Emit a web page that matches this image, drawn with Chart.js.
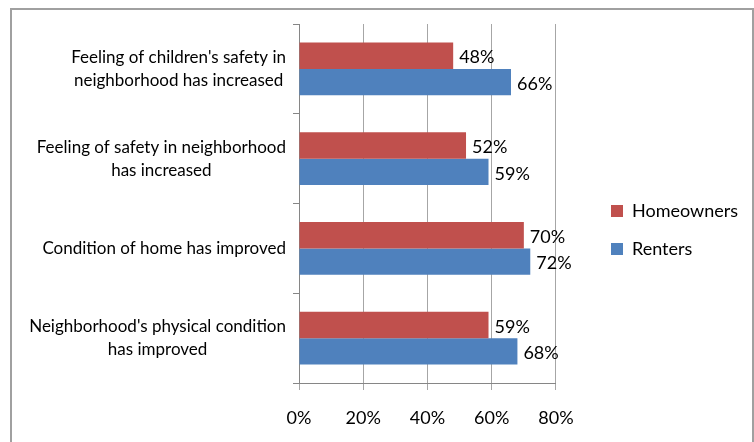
<!DOCTYPE html>
<html>
<head>
<meta charset="utf-8">
<script src="https://cdn.jsdelivr.net/npm/chart.js@4/dist/chart.umd.min.js"></script>
<style>
  html, body { margin: 0; padding: 0; background: #fff; }
  #wrap { width: 754px; height: 442px; position: relative; }
</style>
</head>
<body>
<div id="wrap"><canvas id="c" width="754" height="442"></canvas></div>
<script>
const categories = [
  ["Feeling of children's safety in", "neighborhood has increased"],
  ["Feeling of safety in neighborhood", "has increased"],
  ["Condition of home has improved"],
  ["Neighborhood's physical condition", "has improved"]
];
const seriesNames = ["Homeowners", "Renters"];
const homeowners = [48, 52, 70, 59];
const renters = [66, 59, 72, 68];
const xTicks = [0, 20, 40, 60, 80];

const FONT = "Lato, 'Open Sans', sans-serif";
const RED = '#C0504D';
const BLUE = '#4F81BD';

const borderPlugin = {
  id: 'outerBorder',
  beforeDraw(chart) {
    const ctx = chart.ctx;
    ctx.save();
    ctx.fillStyle = '#fff';
    ctx.fillRect(0, 0, chart.width, chart.height);
    ctx.strokeStyle = '#a0a0a0';
    ctx.lineWidth = 2;
    ctx.strokeRect(11, 9, 742, 460);
    ctx.restore();
  }
};

const catLabelPlugin = {
  id: 'catLabels',
  afterDraw(chart) {
    const ctx = chart.ctx;
    const y = chart.scales.y;
    ctx.save();
    ctx.font = '17px ' + FONT;
    ctx.fillStyle = '#000';
    ctx.textAlign = 'center';
    ctx.textBaseline = 'middle';
    const rightEdge = y.right - 13;
    const lh = 23;
    chart.data.labels.forEach((lab, i) => {
      const lines = Array.isArray(lab) ? lab : [lab];
      const w = Math.max(...lines.map(l => ctx.measureText(l).width));
      const cx = rightEdge - w / 2;
      const cy = y.getPixelForTick(i);
      lines.forEach((l, k) => {
        ctx.fillText(l, cx, cy + (k - (lines.length - 1) / 2) * lh);
      });
    });
    ctx.restore();
  }
};

const valueLabelPlugin = {
  id: 'valueLabels',
  afterDatasetsDraw(chart) {
    const ctx = chart.ctx;
    ctx.save();
    ctx.font = '18px ' + FONT;
    ctx.fillStyle = '#000';
    ctx.textAlign = 'left';
    ctx.textBaseline = 'middle';
    chart.data.datasets.forEach((ds, di) => {
      const meta = chart.getDatasetMeta(di);
      meta.data.forEach((bar, i) => {
        ctx.fillText(ds.data[i] + '%', bar.x + 6, bar.y + 2);
      });
    });
    ctx.restore();
  }
};

const legendShift = {
  id: 'legendShift',
  afterLayout(chart) {
    const lg = chart.legend;
    if (!lg) return;
    const dx = 611 - (lg.left + lg.options.labels.padding);
    lg.left += dx; lg.right += dx;
    const dy = -3;
    lg.top += dy; lg.bottom += dy;
  }
};

new Chart(document.getElementById('c'), {
  type: 'bar',
  data: {
    labels: categories,
    datasets: [
      { label: seriesNames[0], data: homeowners, backgroundColor: RED, borderWidth: 0 },
      { label: seriesNames[1], data: renters, backgroundColor: BLUE, borderWidth: 0 }
    ]
  },
  options: {
    indexAxis: 'y',
    responsive: false,
    animation: false,
    devicePixelRatio: 1,
    categoryPercentage: 0.59,
    barPercentage: 1.0,
    layout: { padding: { left: 0, top: 24, right: 41, bottom: 0 } },
    plugins: {
      tooltip: { enabled: false },
      legend: {
        position: 'right',
        labels: {
          boxWidth: 12, boxHeight: 12, padding: 20,
          color: '#000',
          font: { family: FONT, size: 18 }
        }
      }
    },
    scales: {
      x: {
        min: 0, max: 80,
        afterBuildTicks(scale) { scale.ticks = xTicks.map(v => ({ value: v })); },
        ticks: {
          callback: v => v + '%',
          color: '#000',
          font: { family: FONT, size: 18 },
          padding: 17
        },
        grid: { color: '#a6a6a6', tickLength: 7, lineWidth: 1 },
        border: { color: '#868686' },
        afterFit(scale) { scale.height = 59; }
      },
      y: {
        ticks: { display: false },
        grid: { drawOnChartArea: false, tickLength: 6, color: '#868686', offset: true },
        border: { color: '#868686' },
        afterFit(scale) { scale.width = 299; }
      }
    }
  },
  plugins: [borderPlugin, catLabelPlugin, valueLabelPlugin, legendShift]
});
</script>
</body>
</html>
